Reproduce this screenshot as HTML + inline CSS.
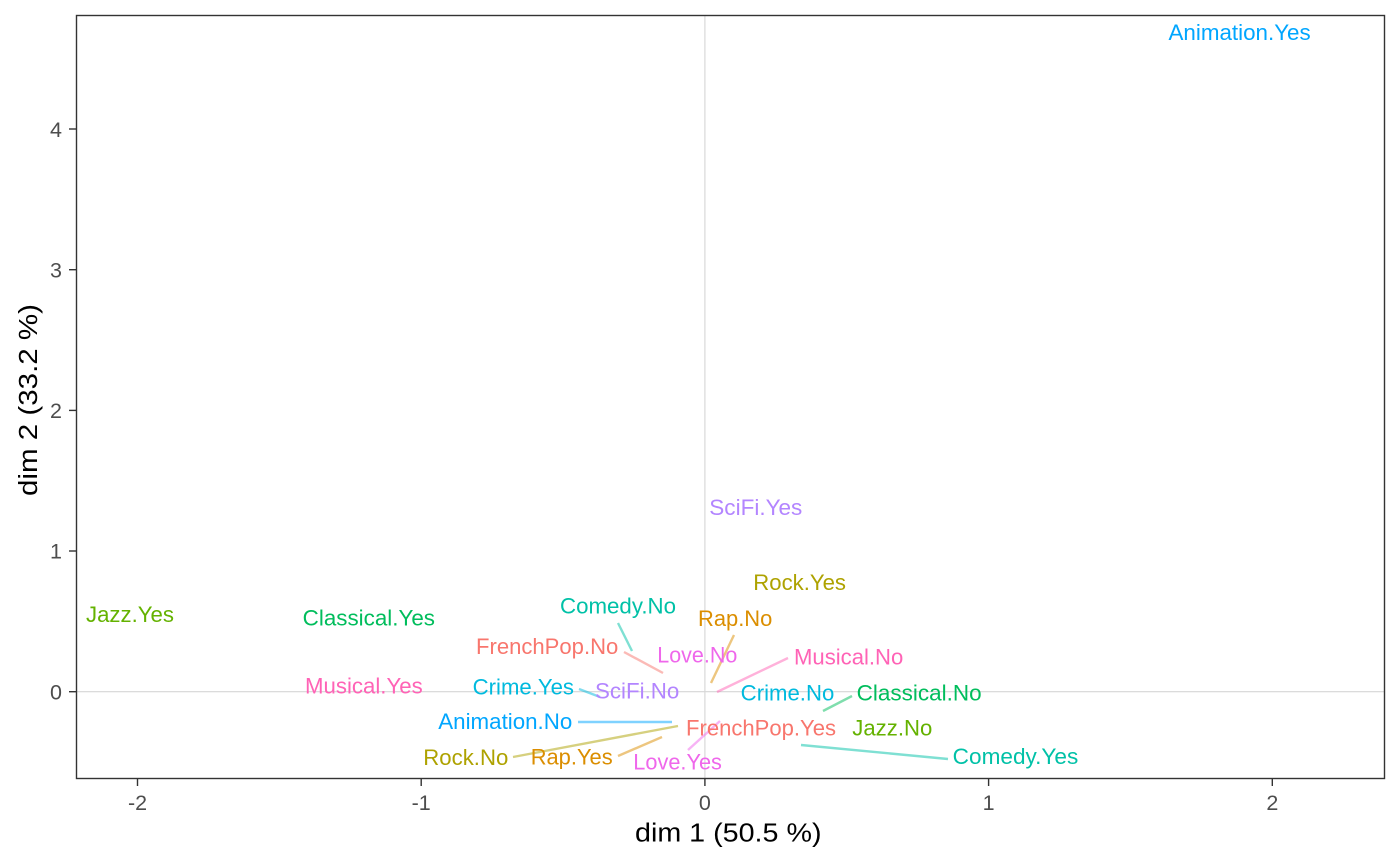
<!DOCTYPE html>
<html>
<head>
<meta charset="utf-8">
<style>
html,body{margin:0;padding:0;background:#fff;}
svg{display:block;}
text{font-family:"Liberation Sans",Arial,sans-serif;}
</style>
</head>
<body>
<svg width="1400" height="865" viewBox="0 0 1400 865" xmlns="http://www.w3.org/2000/svg">
<rect x="0" y="0" width="1400" height="865" fill="#ffffff"/>
<!-- zero lines -->
<line x1="704.9" y1="15.5" x2="704.9" y2="778.5" stroke="#D6D6D6" stroke-width="1.1"/>
<line x1="76.5" y1="691.7" x2="1384.5" y2="691.7" stroke="#D6D6D6" stroke-width="1.1"/>

<!-- segments -->
<g stroke-width="2.4" stroke-opacity="0.5" fill="none" stroke-linecap="butt">
<line x1="618" y1="623" x2="632" y2="651" stroke="#00C1A7"/>
<line x1="624" y1="652" x2="663" y2="673" stroke="#F8766D"/>
<line x1="734" y1="635" x2="711" y2="683" stroke="#DB8E00"/>
<line x1="788" y1="658" x2="717" y2="692" stroke="#FF63B6"/>
<line x1="579" y1="689" x2="600" y2="697" stroke="#00BADE"/>
<line x1="578" y1="722" x2="672" y2="722" stroke="#00A6FF"/>
<line x1="513" y1="757" x2="678" y2="726" stroke="#AEA200"/>
<line x1="618" y1="756" x2="662" y2="737" stroke="#DB8E00"/>
<line x1="688" y1="750" x2="720" y2="721" stroke="#EF67EB"/>
<line x1="852" y1="696" x2="823" y2="711" stroke="#00BD5C"/>
<line x1="801" y1="745" x2="948" y2="759" stroke="#00C1A7"/>
</g>

<!-- labels -->
<g font-size="22">
<text x="1168.5" y="40" textLength="142.2" lengthAdjust="spacingAndGlyphs" fill="#00A6FF">Animation.Yes</text>
<text x="709.3" y="515" textLength="93" lengthAdjust="spacingAndGlyphs" fill="#B385FF">SciFi.Yes</text>
<text x="753.3" y="590" textLength="92.7" lengthAdjust="spacingAndGlyphs" fill="#AEA200">Rock.Yes</text>
<text x="560" y="613.3" textLength="116" lengthAdjust="spacingAndGlyphs" fill="#00C1A7">Comedy.No</text>
<text x="698" y="626" textLength="74.3" lengthAdjust="spacingAndGlyphs" fill="#DB8E00">Rap.No</text>
<text x="302.7" y="625.3" textLength="132.3" lengthAdjust="spacingAndGlyphs" fill="#00BD5C">Classical.Yes</text>
<text x="86" y="622" textLength="88" lengthAdjust="spacingAndGlyphs" fill="#64B200">Jazz.Yes</text>
<text x="476" y="654" textLength="142.3" lengthAdjust="spacingAndGlyphs" fill="#F8766D">FrenchPop.No</text>
<text x="657.3" y="662.7" textLength="80" lengthAdjust="spacingAndGlyphs" fill="#EF67EB">Love.No</text>
<text x="794" y="664.3" textLength="109.3" lengthAdjust="spacingAndGlyphs" fill="#FF63B6">Musical.No</text>
<text x="305" y="693.3" textLength="117.7" lengthAdjust="spacingAndGlyphs" fill="#FF63B6">Musical.Yes</text>
<text x="472.7" y="694.3" textLength="101.3" lengthAdjust="spacingAndGlyphs" fill="#00BADE">Crime.Yes</text>
<text x="595" y="698.3" textLength="84.3" lengthAdjust="spacingAndGlyphs" fill="#B385FF">SciFi.No</text>
<text x="740.7" y="700.7" textLength="93.6" lengthAdjust="spacingAndGlyphs" fill="#00BADE">Crime.No</text>
<text x="856.7" y="700.7" textLength="125" lengthAdjust="spacingAndGlyphs" fill="#00BD5C">Classical.No</text>
<text x="438.3" y="729" textLength="134" lengthAdjust="spacingAndGlyphs" fill="#00A6FF">Animation.No</text>
<text x="686" y="735.7" textLength="150" lengthAdjust="spacingAndGlyphs" fill="#F8766D">FrenchPop.Yes</text>
<text x="852.3" y="735.7" textLength="80" lengthAdjust="spacingAndGlyphs" fill="#64B200">Jazz.No</text>
<text x="423.3" y="765" textLength="85" lengthAdjust="spacingAndGlyphs" fill="#AEA200">Rock.No</text>
<text x="530.7" y="764.3" textLength="82" lengthAdjust="spacingAndGlyphs" fill="#DB8E00">Rap.Yes</text>
<text x="633.3" y="769.3" textLength="88.6" lengthAdjust="spacingAndGlyphs" fill="#EF67EB">Love.Yes</text>
<text x="952.7" y="764" textLength="125.6" lengthAdjust="spacingAndGlyphs" fill="#00C1A7">Comedy.Yes</text>
</g>

<!-- panel border -->
<rect x="76.5" y="15.5" width="1308" height="763" fill="none" stroke="#333333" stroke-width="1.4"/>

<!-- ticks -->
<g stroke="#333333" stroke-width="1.4">
<line x1="137.5" y1="778.5" x2="137.5" y2="786"/>
<line x1="421.2" y1="778.5" x2="421.2" y2="786"/>
<line x1="704.9" y1="778.5" x2="704.9" y2="786"/>
<line x1="988.6" y1="778.5" x2="988.6" y2="786"/>
<line x1="1272.3" y1="778.5" x2="1272.3" y2="786"/>
<line x1="69" y1="691.7" x2="76.5" y2="691.7"/>
<line x1="69" y1="551" x2="76.5" y2="551"/>
<line x1="69" y1="410.4" x2="76.5" y2="410.4"/>
<line x1="69" y1="269.7" x2="76.5" y2="269.7"/>
<line x1="69" y1="129" x2="76.5" y2="129"/>
</g>

<!-- tick labels -->
<g font-size="21.5" fill="#4D4D4D">
<text x="137.5" y="810" text-anchor="middle">-2</text>
<text x="421.2" y="810" text-anchor="middle">-1</text>
<text x="704.9" y="810" text-anchor="middle">0</text>
<text x="988.6" y="810" text-anchor="middle">1</text>
<text x="1272.3" y="810" text-anchor="middle">2</text>
<text x="62" y="699.4" text-anchor="end">0</text>
<text x="62" y="558.7" text-anchor="end">1</text>
<text x="62" y="418.1" text-anchor="end">2</text>
<text x="62" y="277.4" text-anchor="end">3</text>
<text x="62" y="136.8" text-anchor="end">4</text>
</g>

<!-- axis titles -->
<text x="635" y="841.7" font-size="25.5" fill="#000000" textLength="186.5" lengthAdjust="spacingAndGlyphs">dim 1 (50.5 %)</text>
<text transform="translate(37,496) rotate(-90)" x="0" y="0" font-size="25.5" fill="#000000" textLength="192" lengthAdjust="spacingAndGlyphs">dim 2 (33.2 %)</text>
</svg>
</body>
</html>
